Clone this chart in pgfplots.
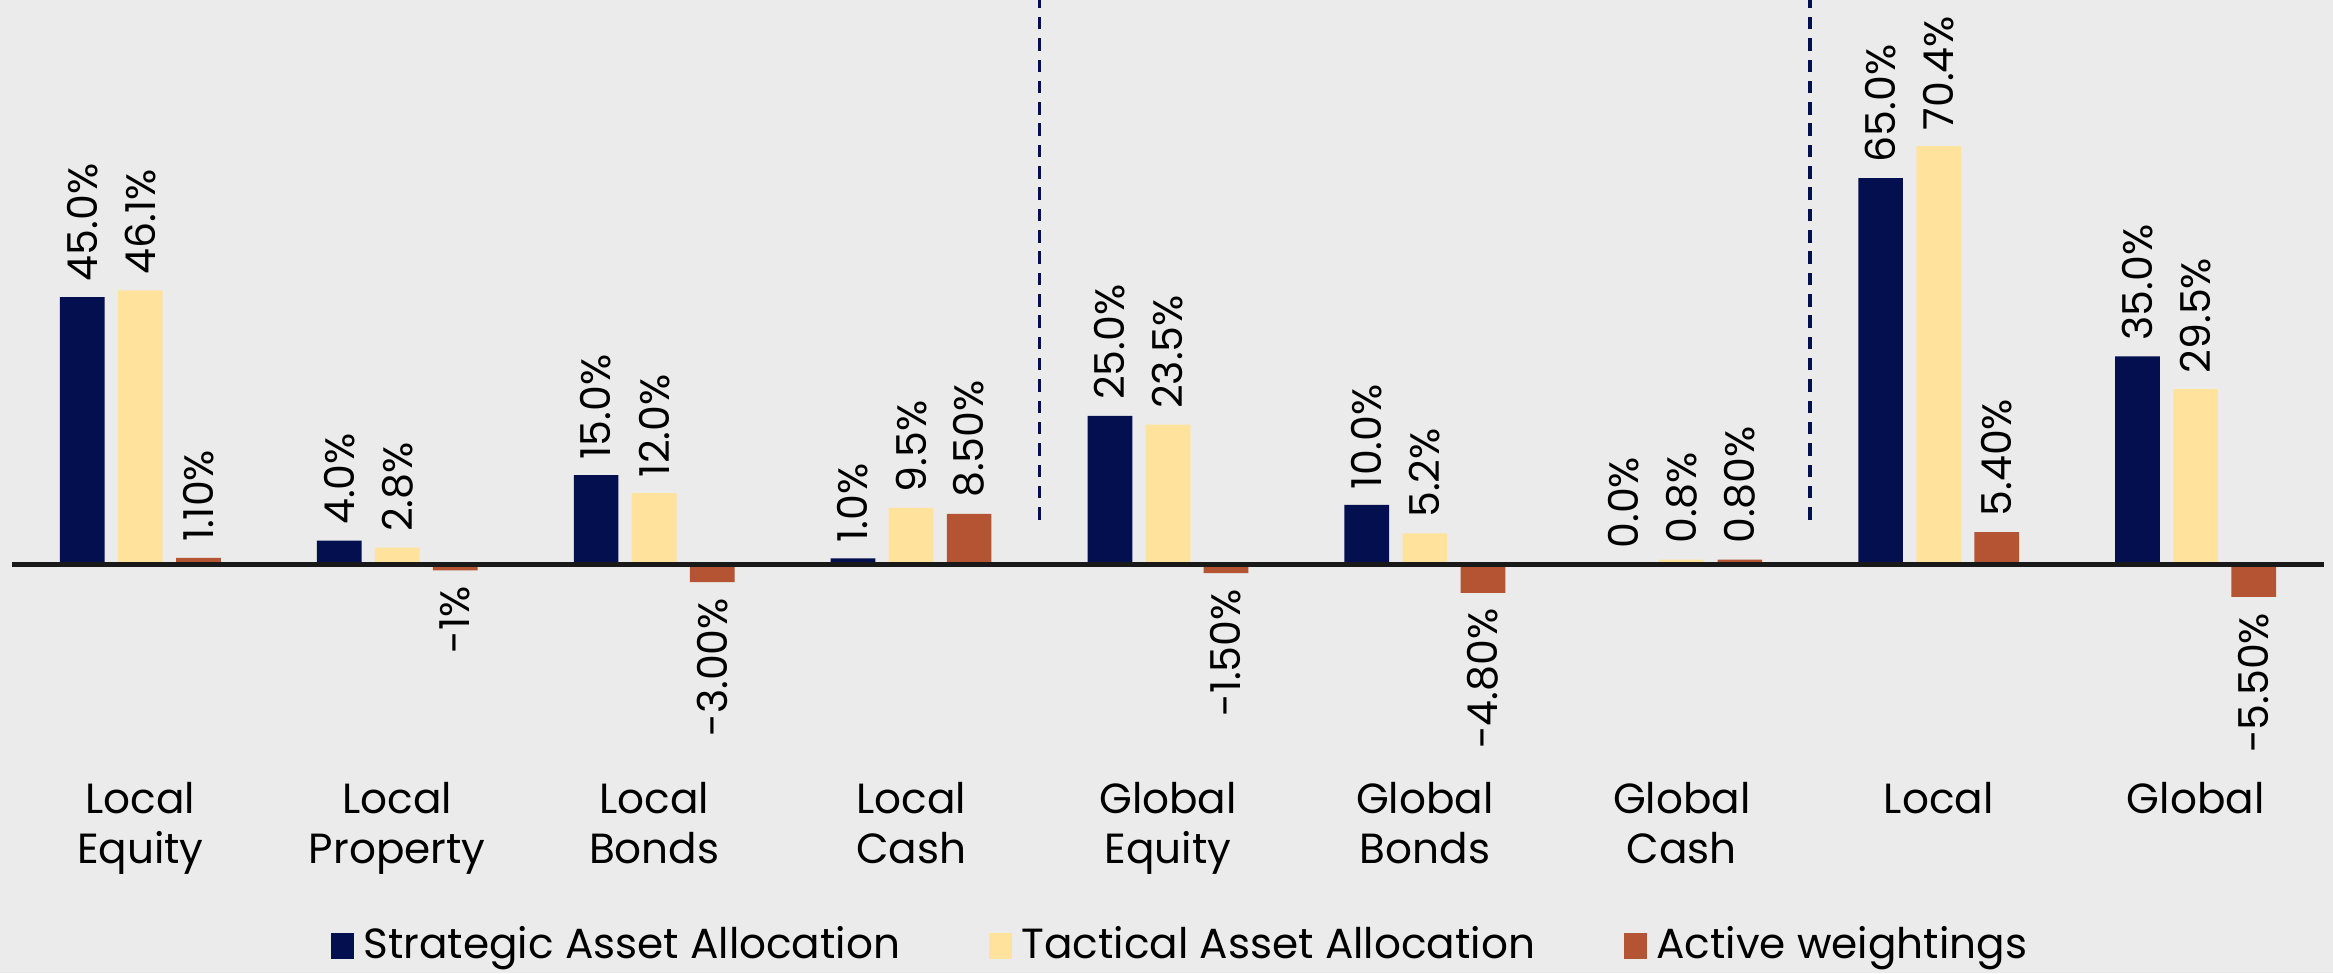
\documentclass[border=0pt]{standalone}
\usepackage{fontspec}
\setmainfont{Poppins}
\usepackage{pgfplots}
\pgfplotsset{compat=1.18}
\usetikzlibrary{backgrounds}

\definecolor{saa}{RGB}{3,15,79}
\definecolor{taa}{RGB}{255,226,156}
\definecolor{act}{RGB}{181,84,50}
\definecolor{bg}{RGB}{235,235,235}

\begin{document}
\begin{tikzpicture}[x=1pt,y=1pt]
\begin{axis}[
  at={(2.4pt,41.7pt)}, anchor=south west,
  scale only axis, width=466.2pt, height=154.5pt,
  ybar, bar width=0.174,
  xmin=-0.5, xmax=8.5, ymin=-34, ymax=95,
  clip=false,
  axis line style={draw=none},
  ytick=\empty,
  xtick={0,...,8}, major tick length=0pt,
  xticklabels={{Local\\Equity},{Local\\Property},{Local\\Bonds},{Local\\Cash},
    {Global\\Equity},{Global\\Bonds},{Global\\Cash},{Local},{Global}},
  xticklabel style={align=center, font=\fontsize{8.5}{10.2}\selectfont, anchor=north, inner sep=3pt},
  nodes near coords, point meta=explicit symbolic,
  every node near coord/.append style={rotate=90, anchor=west, inner sep=3pt,
    font=\fontsize{8.3}{10}\selectfont, text=black},
  legend columns=3,
  legend style={draw=none, fill=none, at={(0.507,-0.235)}, anchor=center,
    font=\fontsize{8.5}{10}\selectfont,
    /tikz/every even column/.append style={column sep=16pt}},
  legend image code/.code={\path[#1] (0pt,-2.6pt) rectangle (4.5pt,2.6pt);},
  ]

  % Strategic Asset Allocation
  \addplot[fill=saa, draw=none, bar shift=-0.226] coordinates {
    (0,45.0) [45.0\%]
    (1,4.0) [4.0\%]
    (2,15.0) [15.0\%]
    (3,1.0) [1.0\%]
    (4,25.0) [25.0\%]
    (5,10.0) [10.0\%]
    (6,0.0) [0.0\%]
    (7,65.0) [65.0\%]
    (8,35.0) [35.0\%]
  };
  % Tactical Asset Allocation
  \addplot[fill=taa, draw=none, bar shift=0] coordinates {
    (0,46.1) [46.1\%]
    (1,2.8) [2.8\%]
    (2,12.0) [12.0\%]
    (3,9.5) [9.5\%]
    (4,23.5) [23.5\%]
    (5,5.2) [5.2\%]
    (6,0.8) [0.8\%]
    (7,70.4) [70.4\%]
    (8,29.5) [29.5\%]
  };
  % Active weightings (positive)
  \addplot[fill=act, draw=none, bar shift=0.226] coordinates {
    (0,1.1) [1.10\%]
    (3,8.5) [8.50\%]
    (6,0.8) [0.80\%]
    (7,5.4) [5.40\%]
  };
  % Active weightings (negative, labels below)
  \addplot[fill=act, draw=none, bar shift=0.226, forget plot,
    every node near coord/.append style={anchor=east}] coordinates {
    (1,-1.0) [-1\%]
    (2,-3.0) [-3.00\%]
    (4,-1.5) [-1.50\%]
    (5,-4.8) [-4.80\%]
    (8,-5.5) [-5.50\%]
  };

  \legend{Strategic Asset Allocation, Tactical Asset Allocation, Active weightings}

  \draw[line width=0.9pt, black!90] (axis cs:-0.5,0) -- (axis cs:8.5,0);
  \draw[saa, line width=0.75pt, dash pattern=on 2.5pt off 1.8pt] (axis cs:3.5,7.5) -- (axis cs:3.5,95);
  \draw[saa, line width=0.75pt, dash pattern=on 2.5pt off 1.8pt] (axis cs:6.5,7.5) -- (axis cs:6.5,95);
\end{axis}
\begin{pgfonlayer}{background}
  \fill[bg] (0,0) rectangle (470.4,196.2);
\end{pgfonlayer}
\pgfresetboundingbox
\path (0,0) rectangle (470.4,196.2);
\end{tikzpicture}
\end{document}
